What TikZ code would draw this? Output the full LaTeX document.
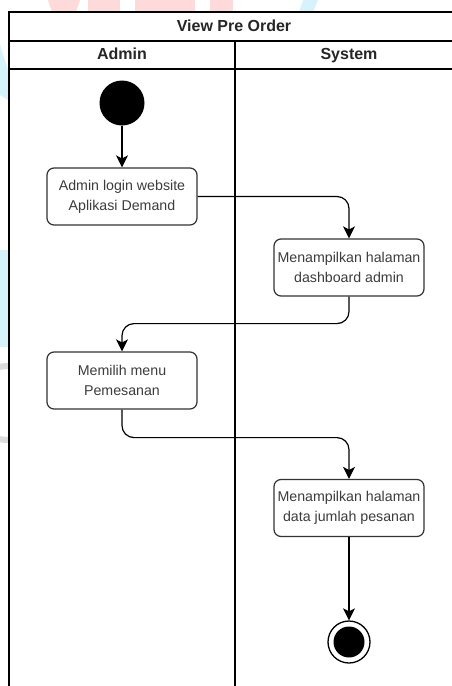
\documentclass[tikz,border=0pt]{standalone}
\usepackage{fontspec}
\setmainfont{Liberation Sans}
\usetikzlibrary{arrows.meta}
\definecolor{txt}{HTML}{3C3C3C}
\definecolor{wmred}{HTML}{FFDADA}
\definecolor{wmcyan}{HTML}{D6F3FB}
\definecolor{wmgrey}{HTML}{DCDCDC}
\tikzset{
  lane/.style={line width=1.4pt, draw=black},
  act/.style={draw=black!80, line width=1.2pt, rounded corners=7pt, fill=white,
    minimum width=150pt, minimum height=57pt, align=center, inner sep=0pt,
    font=\fontsize{14.2}{20}\selectfont, text=txt},
  head/.style={font=\bfseries\fontsize{16}{18}\selectfont, text=black!85,
    text height=11.5pt, text depth=3.5pt, inner sep=0pt},
  flow/.style={draw=black, line width=1.2pt, rounded corners=12pt,
    -{Stealth[length=12pt, width=12pt, inset=3pt]}},
}
\begin{document}
\begin{tikzpicture}[x=1pt, y=-1pt]
\useasboundingbox (0,0) rectangle (452,686);
\clip (0,0) rectangle (452,686);
\fill[white] (0,0) rectangle (452,686);

% faint background marks
\fill[wmred] (48,0) -- (80,0) -- (76,12) -- (52,12) -- cycle;
\fill[wmred] (88,0) rectangle (120,12);
\fill[wmred] (135,0) rectangle (195,12);
\fill[wmred] (210,0) rectangle (233,12);
\fill[wmcyan] (303,0) -- (318,0) -- (313,12) -- (299,12) -- cycle;
\fill[wmcyan] (0,250) rectangle (8,347);
\fill[wmcyan] (0,45) -- (8,70) -- (8,100) -- (0,95) -- cycle;
\draw[wmgrey, line width=6pt] (8,440) arc[start angle=90, end angle=270, radius=37];

% swimlane frame
\draw[lane] (9,700) -- (9,12) -- (470,12);
\draw[lane] (9,41) -- (470,41);
\draw[lane] (9,69) -- (470,69);
\draw[lane] (235,41) -- (235,700);
\node[head] (title) at (234,27) {View Pre Order};
\node[head] (admin) at (122,55) {Admin};
\node[head] (system) at (349,55) {System};

% activity nodes
\node[circle, fill=black, minimum size=45pt, inner sep=0pt] (start) at (122,103) {};
\node[act] (login) at (122,196.5) {Admin login website\\Aplikasi Demand};
\node[act] (dash) at (349,267.5) {Menampilkan halaman\\dashboard admin};
\node[act] (menu) at (122,380.5) {Memilih menu\\Pemesanan};
\node[act] (data) at (349,508) {Menampilkan halaman\\data jumlah pesanan};
\node[circle, draw=black, line width=1.3pt, fill=white, minimum size=42pt, inner sep=0pt] (stop) at (349,642) {};
\node[circle, fill=black, minimum size=31pt, inner sep=0pt] at (stop) {};

% control flow
\draw[flow] (start) -- (login);
\draw[flow] (login.east) -| (dash.north);
\draw[flow] (dash.south) -- ++(0,27) -| (menu.north);
\draw[flow] (menu.south) -- ++(0,28) -| (data.north);
\draw[flow] (data.south) -- (stop.north);
\end{tikzpicture}
\end{document}
